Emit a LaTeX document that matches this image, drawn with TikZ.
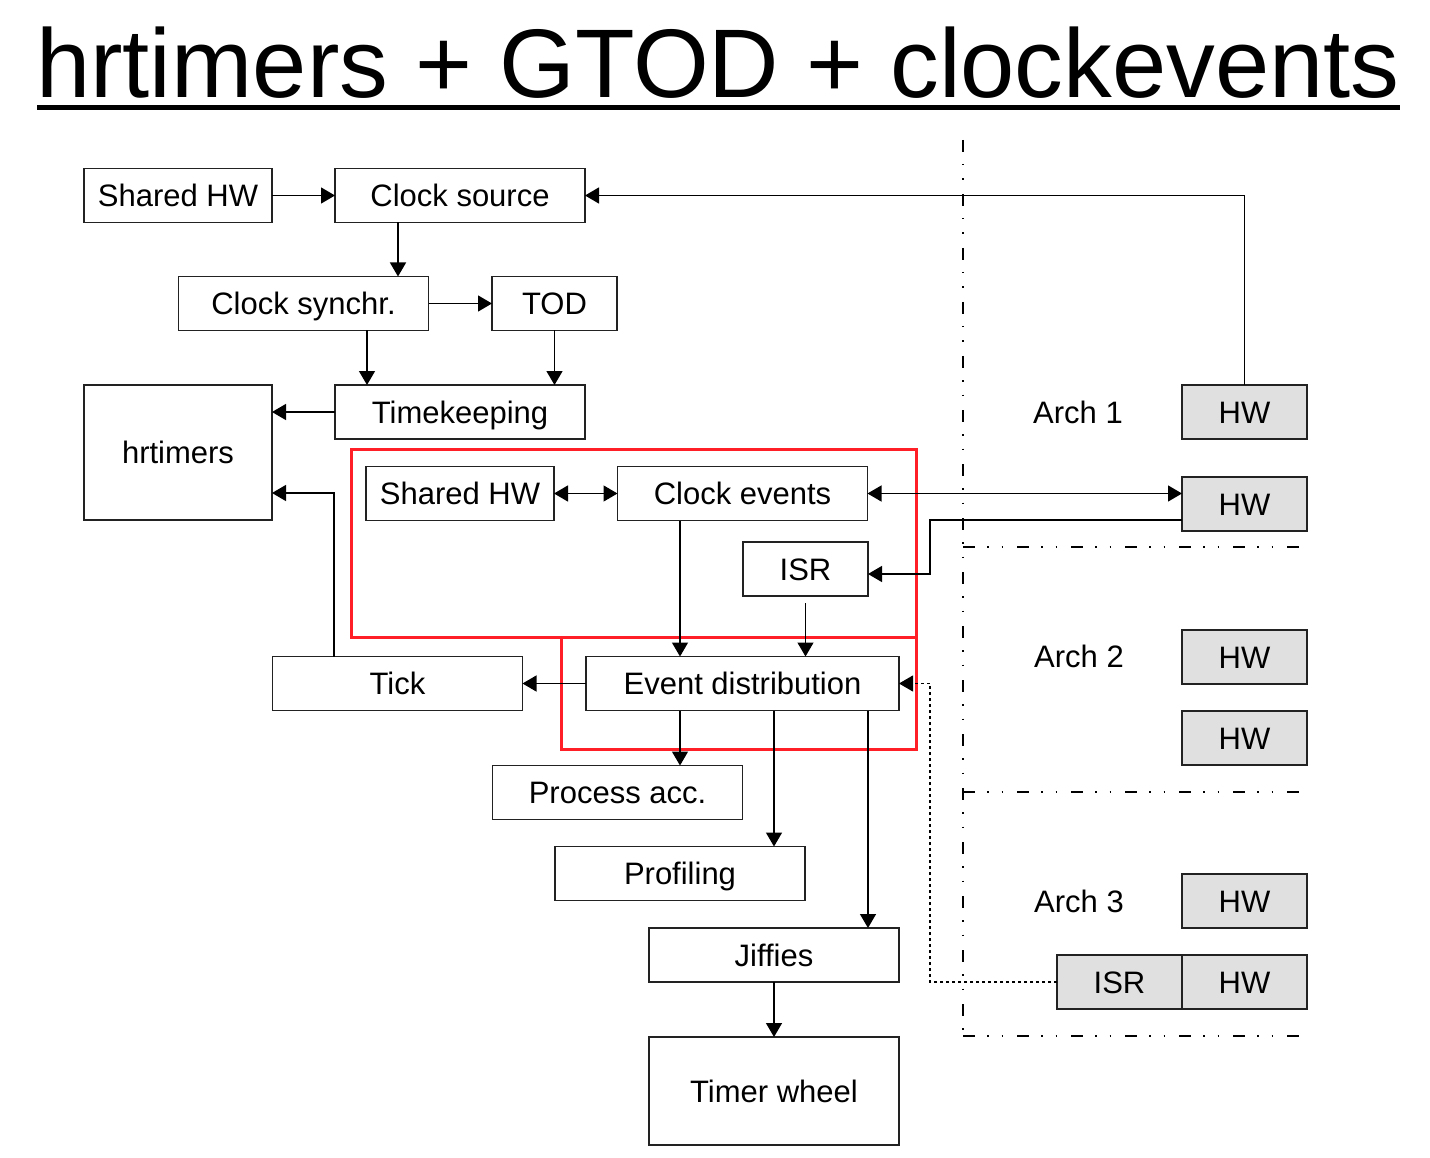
\documentclass[tikz,border=0pt]{standalone}
\usepackage{fontspec}
\setmainfont{Liberation Sans}
\usetikzlibrary{positioning,arrows.meta}
\definecolor{hwgrey}{HTML}{E0E0E0}
\definecolor{boxline}{HTML}{222222}
\definecolor{selred}{HTML}{FF1F26}
\tikzset{
  blk/.style  ={rectangle, draw=boxline, line width=1.4pt, fill=white, align=center,
                font=\fontsize{31}{37}\selectfont, text height=22pt, text depth=0pt,
                minimum width=250pt, minimum height=54pt, inner sep=0pt, outer sep=0pt},
  blks/.style ={blk, minimum width=188pt},
  blkn/.style ={blk, minimum width=125pt},
  hw/.style   ={blkn, fill=hwgrey},
  lbl/.style  ={font=\fontsize{31}{37}\selectfont, text height=22pt, text depth=0pt, inner sep=0pt},
  fl/.style   ={-{Triangle[length=14pt,width=16pt]}, line width=1.4pt},
  flb/.style  ={{Triangle[length=14pt,width=16pt]}-{Triangle[length=14pt,width=16pt]}, line width=1.4pt},
  fld/.style  ={fl, line width=1.1pt, dash pattern=on 3pt off 3pt},
  sel/.style  ={draw=selred, line width=3pt},
  archsep/.style={line width=1.4pt, dash pattern=on 12pt off 12pt on 1.5pt off 13pt on 1.5pt off 14pt}
}

\begin{document}
\begin{tikzpicture}[x=1pt,y=-1pt]
  \useasboundingbox (0,0) rectangle (1430,1158);
  % --- title
  \node[anchor=base, inner sep=0pt, font=\fontsize{97.5}{100}\selectfont] (title) at (718,98) {hrtimers + GTOD + clockevents};
  \draw[line width=5pt] (37,108) -- (1400,108);
  % --- arch separators and selection frames
  \draw[archsep] (963,140) -- (963,1036);
  \foreach \yy in {547,792,1036} \draw[archsep] (963,\yy) -- (1307,\yy);
  \draw[sel] (351,449) rectangle (916,637);
  \draw[sel] (561,637) rectangle (916,749);
  % --- generic time of day
  \node[blks]                      (shw)  at (178,195.5)  {Shared HW};
  \node[blk]                       (cs)   at (460,195.5)  {Clock source};
  \node[blk]                       (csy)  at (303.5,303.5) {Clock synchr.};
  \node[blkn]                      (tod)  at (554.5,303.5) {TOD};
  \node[blk]                       (tk)   at (460,412)    {Timekeeping};
  \node[blks,minimum height=135pt] (hrt)  at (178,452.5)  {hrtimers};
  % --- clock events
  \node[blks]                      (shw2) at (460,493.5)  {Shared HW};
  \node[blk]                       (ce)   at (742.5,493.5) {Clock events};
  \node[blkn]                      (isr)  at (805.5,569)  {ISR};
  \node[blk]                       (tick) at (397.5,683.5) {Tick};
  \node[blk,minimum width=313pt]   (ed)   at (742.5,683.5) {Event distribution};
  \node[blk]                       (pacc) at (617.5,792.5) {Process acc.};
  \node[blk]                       (prof) at (680,873.5)  {Profiling};
  \node[blk]                       (jif)  at (774,955)    {Jiffies};
  \node[blk,minimum height=108pt]  (tw)   at (774,1091)   {Timer wheel};
  % --- architectures
  \node[lbl]                       (a1)   at (1078,412)   {Arch 1};
  \node[lbl]                       (a2)   at (1079,656)   {Arch 2};
  \node[lbl]                       (a3)   at (1079,901)   {Arch 3};
  \node[hw]                        (hw1a) at (1244.5,412) {HW};
  \node[hw]                        (hw1b) at (1244.5,504) {HW};
  \node[hw]                        (hw2a) at (1244.5,657) {HW};
  \node[hw]                        (hw2b) at (1244.5,738) {HW};
  \node[hw]                        (hw3a) at (1244.5,901) {HW};
  \node[hw]                        (hw3b) at (1244.5,982) {HW};
  \node[hw]                        (isr3) at (1119.5,982) {ISR};

  \draw[fl] (shw) -- (cs);
  \draw[fl] ([xshift=-62pt]cs.south) -- ([xshift=-62pt]cs.south |- csy.north);
  \draw[fl] (csy) -- (tod);
  \draw[fl] ([xshift=63.5pt]csy.south) -- ([xshift=63.5pt]csy.south |- tk.north);
  \draw[fl] (tod.south) -- (tod.south |- tk.north);
  \draw[fl] (tk.west) -- (tk.west -| hrt.east);
  \draw[fl] (hw1a.north) |- (cs.east);
  \draw[flb] (shw2) -- (ce);
  \draw[flb] (ce.east) -- (ce.east -| hw1b.west);
  \draw[fl] ([yshift=-16pt]hw1b.west) -- ++(-252,0) |- ([yshift=-5pt]isr.east);
  \draw[fl] ([xshift=-62.5pt]ce.south) -- ([xshift=-62.5pt]ce.south |- ed.north);
  \draw[fl] ([yshift=-7pt]isr.south) -- (isr.south |- ed.north);
  \draw[fl] (ed) -- (tick);
  \draw[fl] ([xshift=-63.5pt]tick.north) |- ([yshift=-40.5pt]hrt.east);
  \draw[fl] ([xshift=-62.5pt]ed.south) -- ([xshift=-62.5pt]ed.south |- pacc.north);
  \draw[fl] ([xshift=31.5pt]ed.south) -- ([xshift=31.5pt]ed.south |- prof.north);
  \draw[fl] ([xshift=125.5pt]ed.south) -- ([xshift=125.5pt]ed.south |- jif.north);
  \draw[fl] (jif) -- (tw);
  \draw[fld] (isr3.west) -- ++(-127,0) |- (ed.east);
\end{tikzpicture}
\end{document}
